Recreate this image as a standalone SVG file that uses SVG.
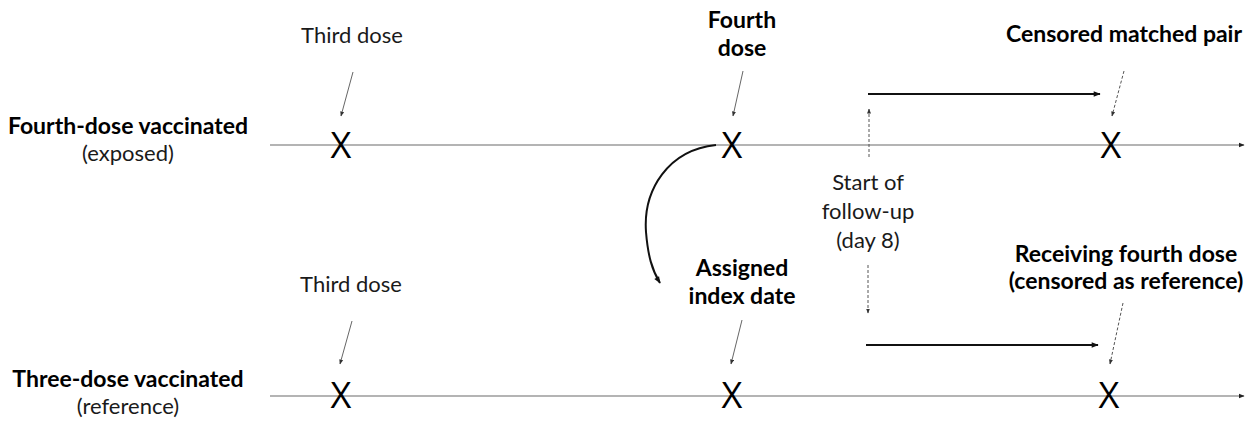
<svg xmlns="http://www.w3.org/2000/svg" width="1253" height="425" viewBox="0 0 1253 425">
<style>
text{font-family:Lato,"Open Sans","Liberation Sans",sans-serif;fill:#1a1a1a;}
.lbl{font-size:22px;text-anchor:middle;}
.b{font-weight:bold;font-size:23px;fill:#000;}
.x{font-size:36px;text-anchor:middle;font-family:"Open Sans",Lato,sans-serif;fill:#000;}
.axis{stroke:#6a6a6a;stroke-width:1.2;fill:none;}
.thin{stroke:#666;stroke-width:1;fill:none;}
.dash{stroke:#555;stroke-width:1;stroke-dasharray:3 2;fill:none;}
.thick{stroke:#111;stroke-width:2.2;fill:none;}
.curve{stroke:#111;stroke-width:2;fill:none;}
</style>
<defs>
<marker id="ah" viewBox="0 0 10 10" refX="9" refY="5" markerWidth="6" markerHeight="6" orient="auto" markerUnits="userSpaceOnUse"><path d="M0,1 L10,5 L0,9 z" fill="#222"/></marker>
<marker id="ahs" viewBox="0 0 10 10" refX="9" refY="5" markerWidth="5" markerHeight="5" orient="auto" markerUnits="userSpaceOnUse"><path d="M0,1 L10,5 L0,9 z" fill="#333"/></marker>
<marker id="ahb" viewBox="0 0 10 10" refX="9" refY="5" markerWidth="8" markerHeight="7" orient="auto" markerUnits="userSpaceOnUse"><path d="M0,1 L10,5 L0,9 z" fill="#111"/></marker>
</defs>
<g id="connectors">
<line class="axis" x1="270" y1="145" x2="1244" y2="145" marker-end="url(#ah)"/>
<line class="axis" x1="270" y1="396" x2="1244" y2="396" marker-end="url(#ah)"/>
<line class="thin" x1="353" y1="72" x2="341" y2="116" marker-end="url(#ahs)"/>
<line class="thin" x1="743" y1="71" x2="733" y2="116" marker-end="url(#ahs)"/>
<line class="thin" x1="352" y1="321" x2="340" y2="364" marker-end="url(#ahs)"/>
<line class="thin" x1="742" y1="320" x2="731" y2="364" marker-end="url(#ahs)"/>
<line class="dash" x1="1124" y1="71" x2="1112" y2="116" marker-end="url(#ahs)"/>
<line class="dash" x1="1123" y1="303" x2="1110" y2="364" marker-end="url(#ahs)"/>
<line class="dash" x1="869" y1="157" x2="869" y2="109" marker-end="url(#ahs)"/>
<line class="dash" x1="868" y1="265" x2="868" y2="313" marker-end="url(#ahs)"/>
<line class="thick" x1="868" y1="94" x2="1100" y2="94" marker-end="url(#ahb)"/>
<line class="thick" x1="866" y1="345" x2="1098" y2="345" marker-end="url(#ahb)"/>
<path class="curve" d="M716,145 C668,150 643,190 646,232 C648,256 652,270 660,283" marker-end="url(#ahb)"/>
</g>
<g id="group-exposed">
<text class="lbl b" x="128" y="134">Fourth-dose vaccinated</text>
<text class="lbl" x="128" y="161">(exposed)</text>
</g>
<g id="group-reference">
<text class="lbl b" x="128" y="387">Three-dose vaccinated</text>
<text class="lbl" x="128" y="414">(reference)</text>
</g>
<g id="third-dose-top">
<text class="lbl" x="352" y="43">Third dose</text>
<text class="x" x="341" y="158">X</text>
</g>
<g id="fourth-dose-top">
<text class="lbl b" x="742" y="28">Fourth</text>
<text class="lbl b" x="742" y="56">dose</text>
<text class="x" x="732" y="158">X</text>
</g>
<g id="censored-pair">
<text class="lbl b" x="1124" y="42">Censored matched pair</text>
<text class="x" x="1111" y="158">X</text>
</g>
<g id="start-follow-up">
<text class="lbl" x="868" y="190">Start of</text>
<text class="lbl" x="868" y="219">follow-up</text>
<text class="lbl" x="868" y="248">(day 8)</text>
</g>
<g id="third-dose-bottom">
<text class="lbl" x="351" y="292">Third dose</text>
<text class="x" x="341" y="408">X</text>
</g>
<g id="assigned-index">
<text class="lbl b" x="742" y="276">Assigned</text>
<text class="lbl b" x="742" y="304">index date</text>
<text class="x" x="732" y="408">X</text>
</g>
<g id="receiving-fourth">
<text class="lbl b" x="1126" y="262">Receiving fourth dose</text>
<text class="lbl b" x="1126" y="289">(censored as reference)</text>
<text class="x" x="1109" y="408">X</text>
</g>
</svg>
